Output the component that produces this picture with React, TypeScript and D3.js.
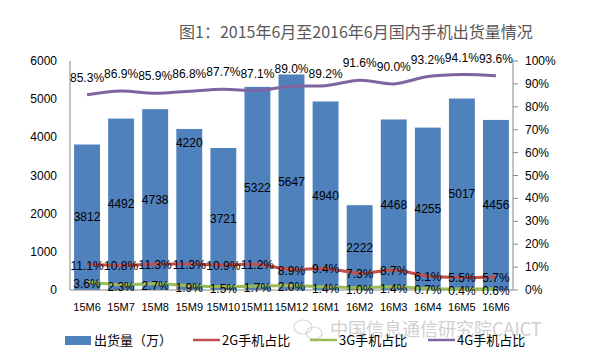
import React from "react";
import * as d3 from "d3";

const categories = ["15M6","15M7","15M8","15M9","15M10","15M11","15M12","16M1","16M2","16M3","16M4","16M5","16M6"];
const shipments = [3812,4492,4738,4220,3721,5322,5647,4940,2222,4468,4255,5017,4456];
const share2G = [11.1,10.8,11.3,11.3,10.9,11.2,8.9,9.4,7.3,8.7,6.1,5.5,5.7];
const share3G = [3.6,2.3,2.7,1.9,1.5,1.7,2.0,1.4,1.0,1.4,0.7,0.4,0.6];
const share4G = [85.3,86.9,85.9,86.8,87.7,87.1,89.0,89.2,91.6,90.0,93.2,94.1,93.6];
const leftTicks = [0,1000,2000,3000,4000,5000,6000];
const rightTicks = [0,10,20,30,40,50,60,70,80,90,100];
const title = "图1：2015年6月至2016年6月国内手机出货量情况";
const legendLabels = ["出货量（万）","2G手机占比","3G手机占比","4G手机占比"];

const W = 591, H = 361;
const L = 70, R = 513, T = 61, B = 290;
const BAR = "#4F81BD", C2 = "#C0504D", C3 = "#9BBB59", C4 = "#8064A2";
const NUM_FONT = "'Liberation Sans', Arial, sans-serif";
const CJK_FONT = "'Noto Sans CJK SC', sans-serif";

export default function App() {
  const x = d3.scaleBand<string>().domain(categories).range([L, R]).paddingInner(0.24).paddingOuter(0.12);
  const yL = d3.scaleLinear().domain([0, 6000]).range([B, T]);
  const yR = d3.scaleLinear().domain([0, 100]).range([B, T]);
  const cx = (c: string) => (x(c) as number) + x.bandwidth() / 2;
  const line = d3.line<number>().x((_, i) => cx(categories[i])).y((v) => yR(v)).curve(d3.curveCatmullRom.alpha(0.5));

  const legendItems = [
    { label: legendLabels[0], color: BAR, type: "rect", x: 65 },
    { label: legendLabels[1], color: C2, type: "line", x: 193 },
    { label: legendLabels[2], color: C3, type: "line", x: 310 },
    { label: legendLabels[3], color: C4, type: "line", x: 428 },
  ];

  return (
    <svg width={W} height={H} style={{ position: "absolute", left: 0, top: 0, background: "#fff" }}>
      <text x={179} y={38} fontFamily={CJK_FONT} fontSize={16} fill="#595959">{title}</text>

      {/* watermark */}
      <g opacity={0.55}>
        <ellipse cx={303} cy={327} rx={9} ry={7} fill="none" stroke="#bbb" strokeWidth={1.2} />
        <ellipse cx={314} cy={333} rx={8} ry={6} fill="none" stroke="#bbb" strokeWidth={1.2} />
        <text x={330} y={336} fontFamily={CJK_FONT} fontSize={18} fill="#aaa">中国信息通信研究院CAICT</text>
      </g>

      {/* bars */}
      {shipments.map((v, i) => (
        <rect key={i} x={x(categories[i])} y={yL(v)} width={x.bandwidth()} height={B - yL(v)} fill={BAR} />
      ))}

      {/* axes */}
      <line x1={L} x2={L} y1={T} y2={B} stroke="#888" />
      <line x1={R} x2={R} y1={T} y2={B} stroke="#888" />
      <line x1={L} x2={R} y1={B} y2={B} stroke="#888" />
      {leftTicks.map((t) => (
        <text key={t} x={57} y={yL(t) + 4} textAnchor="end" fontFamily={NUM_FONT} fontSize={12} fill="#000">{t}</text>
      ))}
      {rightTicks.map((t) => (
        <g key={t}>
          <line x1={R} x2={R + 5} y1={yR(t)} y2={yR(t)} stroke="#888" />
          <text x={525} y={yR(t) + 4} fontFamily={NUM_FONT} fontSize={12} fill="#000">{t}%</text>
        </g>
      ))}
      {categories.map((c) => (
        <text key={c} x={cx(c)} y={311} textAnchor="middle" fontFamily={NUM_FONT} fontSize={11} fill="#000">{c}</text>
      ))}

      {/* bar labels */}
      {shipments.map((v, i) => {
        const yy = i === 3 ? yL(v) + 18 : yL(v / 2) + 4;
        return (
          <text key={i} x={cx(categories[i])} y={yy} textAnchor="middle" fontFamily={NUM_FONT} fontSize={12} fill="#000">{v}</text>
        );
      })}

      {/* lines */}
      <path d={line(share2G) as string} fill="none" stroke={C2} strokeWidth={3} />
      <path d={line(share3G) as string} fill="none" stroke={C3} strokeWidth={3} />
      <path d={line(share4G) as string} fill="none" stroke={C4} strokeWidth={3} />

      {share2G.map((v, i) => (
        <text key={"a" + i} x={cx(categories[i])} y={yR(v) + 5} textAnchor="middle" fontFamily={NUM_FONT} fontSize={12} fill="#000">{v.toFixed(1)}%</text>
      ))}
      {share3G.map((v, i) => (
        <text key={"b" + i} x={cx(categories[i])} y={yR(v) + 6} textAnchor="middle" fontFamily={NUM_FONT} fontSize={12} fill="#000">{v.toFixed(1)}%</text>
      ))}
      {share4G.map((v, i) => (
        <text key={"c" + i} x={cx(categories[i])} y={yR(v) - (i === 7 ? 8 : 13)} textAnchor="middle" fontFamily={NUM_FONT} fontSize={12} fill="#000">{v.toFixed(1)}%</text>
      ))}

      {/* legend */}
      {legendItems.map((it) => (
        <g key={it.label}>
          {it.type === "rect" ? (
            <rect x={it.x} y={336} width={26} height={9} fill={it.color} />
          ) : (
            <line x1={it.x} x2={it.x + 27} y1={340} y2={340} stroke={it.color} strokeWidth={2.5} />
          )}
          <text x={it.x + 29} y={345} fontFamily={CJK_FONT} fontSize={13} fill="#000">{it.label}</text>
        </g>
      ))}
    </svg>
  );
}
